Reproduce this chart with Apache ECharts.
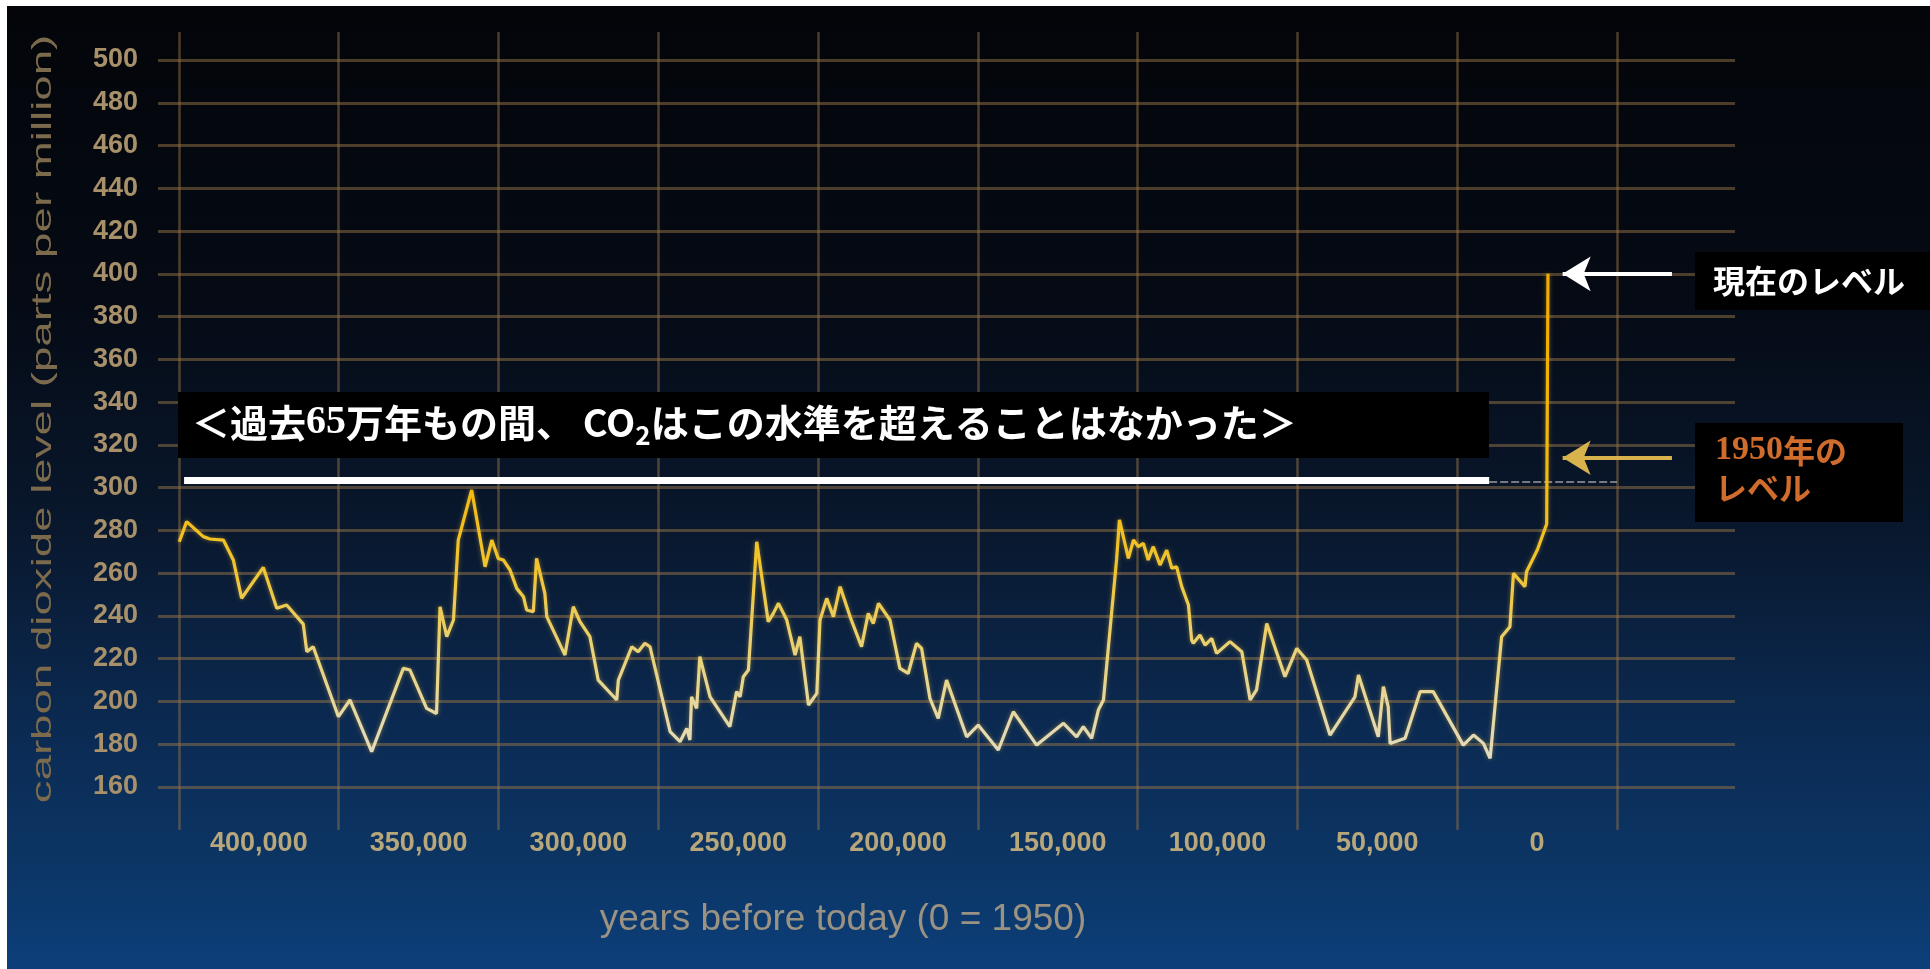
<!DOCTYPE html>
<html>
<head>
<meta charset="utf-8">
<script src="https://cdn.jsdelivr.net/npm/echarts@6/dist/echarts.min.js"></script>
<style>
html,body{margin:0;padding:0;background:#fff;overflow:hidden;}
#c{width:1930px;height:969px;}
</style>
</head>
<body>
<div id="c"></div>
<script>
// ---- data ----
const years = [424900,422600,417400,415300,411100,408000,405400,398600,394400,391300,386100,385000,383000,375100,371500,364700,354800,352700,347500,344400,343300,341200,339100,337600,333400,329200,327100,325100,323500,
321400,319300,317200,316200,314100,313100,310500,309900,304200,301600,299500,296400,293800,288000,287500,283300,281300,279200,277600,271300,268200,266100,265100,264600,263000,262000,258800,252600,250500,249400,248400,246800,244200,240600,239000,237400,234800,232200,230700,228000,225400,224400,222300,220200,218100,
215000,211400,209300,207700,206100,202500,199400,196800,194200,192600,190000,187400,184800,178500,174900,168600,163900,156600,148200,144100,142000,139400,137300,135700,131600,130700,127900,126300,124800,123200,121700,120100,118000,115900,114300,112800,111200,109100,108100,
107600,105500,103900,101800,100300,96100,92400,89800,87800,84600,78900,75200,72100,64800,57000,55900,49700,48100,46600,46000,41300,36600,32500,23100,19900,16800,14700,11100,8500,7400,3800,3300,-100,-3000,-3400];
const co2 = [274.7,284.1,277.1,276.0,275.5,266.2,248.3,262.7,243.6,245.1,236.2,223.3,225.6,192.9,200.7,176.5,215.5,214.7,196.8,194.4,244.3,230.3,238.1,275.5,298.9,263.0,275.5,266.9,266.2,
261.5,252.9,249.0,242.8,242.0,266.9,250.6,239.7,221.7,244.3,237.3,230.3,210.0,200.7,210.0,225.6,223.3,227.2,225.6,185.9,181.2,187.4,182.0,202.2,196.8,221.0,202.2,188.2,204.6,202.2,211.6,214.7,274.7,237.3,241.2,245.9,238.1,221.7,230.3,198.3,203.8,238.1,248.2,239.7,253.7,
239.7,225.6,241.2,236.5,245.9,238.1,215.5,213.1,227.2,224.8,201.5,192.1,210.0,183.5,189.0,177.3,195.2,179.6,189.8,183.5,188.2,182.8,196.0,200.7,266.2,284.9,266.9,275.5,272.4,273.9,266.2,272.4,263.8,270.8,262.3,263.0,253.7,245.1,228.7,
227.2,231.1,226.4,229.5,222.5,228.0,223.3,200.7,205.4,236.5,211.6,224.8,219.4,184.3,202.2,212.4,183.5,206.9,197.6,180.4,182.8,204.6,204.6,179.6,184.3,180.4,173.4,230.3,235.0,259.9,253.7,260.7,271.0,283.0,400.0];

const yTicks = [160,180,200,220,240,260,280,300,320,340,360,380,400,420,440,460,480,500];
const xLabelValues = [400000,350000,300000,250000,200000,150000,100000,50000,0];
const xGridValues = [425000,375000,325000,275000,225000,175000,125000,75000,25000,-25000];

const thresholdLevel = 303.3;      // white bar
const thresholdSpan = [423400, 15000];
const currentLevel = 400;          // 現在のレベル
const level1950 = 314;             // 1950年のレベル
const arrowSpan = [-42200, -8000];

const yTitle = 'carbon dioxide level (parts per million)';
const xTitle = 'years before today (0 = 1950)';
const currentLabel = '現在のレベル';

// ---- chart ----
const chart = echarts.init(document.getElementById('c'), null, {renderer: 'canvas'});
const fmt = v => String(v).replace(/\B(?=(\d{3})+(?!\d))/g, ',');
const gridColor = 'rgba(150,115,70,0.5)';

const option = {
  backgroundColor: {
    type: 'linear', x: 0, y: 0, x2: 0, y2: 1,
    colorStops: [
      {offset: 0, color: '#030509'},
      {offset: 0.3, color: '#050a14'},
      {offset: 0.55, color: '#09182e'},
      {offset: 0.75, color: '#0b2a52'},
      {offset: 0.9, color: '#0c3666'},
      {offset: 1, color: '#0c3f7a'}
    ]
  },
  animation: false,
  grid: {left: 158, right: 195, top: 32, bottom: 139, containLabel: false, outerBoundsMode: 'none'},
  xAxis: {
    type: 'value', inverse: true, min: -61930, max: 431560,
    axisLine: {show: false},
    axisTick: {show: false, customValues: xGridValues},
    splitLine: {show: true, lineStyle: {color: gridColor, width: 2.5}},
    axisLabel: {
      customValues: xLabelValues, formatter: fmt, margin: 2, lineHeight: 24,
      color: '#b8a77a', fontFamily: 'Liberation Sans', fontWeight: 'bold', fontSize: 27
    }
  },
  yAxis: {
    type: 'value', min: 139.9, max: 513.1,
    axisLine: {show: false},
    axisTick: {show: false, customValues: yTicks},
    splitLine: {show: true, lineStyle: {color: gridColor, width: 3}},
    axisLabel: {
      customValues: yTicks, margin: 20,
      color: '#a8916a', fontFamily: 'Liberation Sans', fontWeight: 'bold', fontSize: 27
    }
  },
  series: [{
    type: 'line',
    data: years.map((y, i) => [y, co2[i]]),
    showSymbol: false, symbol: 'none', silent: true, z: 5,
    lineStyle: {
      width: 3.2,
      shadowColor: 'rgba(240,190,50,0.45)', shadowBlur: 4,
      color: {
        type: 'linear', x: 0, y: 0, x2: 0, y2: 1,
        colorStops: [
          {offset: 0, color: '#f2a900'},
          {offset: 0.45, color: '#f4bb10'},
          {offset: 0.6, color: '#f0c430'},
          {offset: 0.78, color: '#e9d27a'},
          {offset: 1, color: '#e2dcc4'}
        ]
      }
    },
    markLine: {
      silent: true, symbol: 'none', animation: false,
      label: {show: false},
      data: [
        [{coord: [thresholdSpan[0], thresholdLevel], lineStyle: {color: '#ffffff', width: 7, type: 'solid'}},
         {coord: [thresholdSpan[1], thresholdLevel]}],
        [{coord: [thresholdSpan[1], thresholdLevel - 0.7], lineStyle: {color: 'rgba(190,190,190,0.6)', width: 2, type: [8, 3]}},
         {coord: [-25000, thresholdLevel - 0.7]}],
        [{coord: [arrowSpan[0], currentLevel], symbol: 'none', lineStyle: {color: '#ffffff', width: 4, type: 'solid'}},
         {coord: [arrowSpan[1], currentLevel], symbol: 'arrow', symbolSize: [26, 28]}],
        [{coord: [arrowSpan[0], level1950], symbol: 'none', lineStyle: {color: '#d8b24c', width: 4, type: 'solid'}},
         {coord: [arrowSpan[1], level1950], symbol: 'arrow', symbolSize: [26, 28]}]
      ]
    }
  }],
  graphic: [
    {type: 'rect', z: 50, shape: {x: 178, y: 392, width: 1311, height: 66}, style: {fill: '#000'}},
    {type: 'text', z: 51, x: 192, y: 423,
      style: {
        text: '{a|＜過去}{n|65}{a|万年もの間、 CO}{s|2}{a|はこの水準を超えることはなかった＞}',
        verticalAlign: 'middle', align: 'left',
        rich: {
          a: {fontFamily: 'Noto Sans CJK JP', fontWeight: 'bold', fontSize: 38, lineHeight: 50, fill: '#fff'},
          n: {fontFamily: 'Liberation Serif', fontWeight: 'bold', fontSize: 40, lineHeight: 50, fill: '#fff'},
          s: {fontFamily: 'Noto Sans CJK JP', fontWeight: 'bold', fontSize: 26, lineHeight: 26, verticalAlign: 'bottom', fill: '#fff'}
        }
      }},
    {type: 'rect', z: 50, shape: {x: 1695, y: 252, width: 235, height: 58}, style: {fill: '#000'}},
    {type: 'text', z: 51, x: 1713, y: 281,
      style: {text: currentLabel, fill: '#ffffff', fontFamily: 'Noto Sans CJK JP', fontWeight: 'bold', fontSize: 32, verticalAlign: 'middle'}},
    {type: 'rect', z: 50, shape: {x: 1695, y: 423, width: 208, height: 99}, style: {fill: '#000'}},
    {type: 'text', z: 51, x: 1715, y: 469,
      style: {
        text: '{n|1950}{a|年の}\n{a|レベル}', verticalAlign: 'middle',
        rich: {
          n: {fontFamily: 'Liberation Serif', fontWeight: 'bold', fontSize: 34, lineHeight: 37, fill: '#d06c2c'},
          a: {fontFamily: 'Noto Sans CJK JP', fontWeight: 'bold', fontSize: 32, lineHeight: 37, fill: '#d06c2c'}
        }
      }},
    {type: 'text', z: 20, x: 43, y: 419, rotation: Math.PI / 2, scaleX: 1.63, scaleY: 1,
      style: {text: yTitle, fill: '#7c6a4c', fontFamily: 'Liberation Sans', fontSize: 28, align: 'center', verticalAlign: 'middle'}},
    {type: 'text', z: 20, x: 843, y: 920,
      style: {text: xTitle, fill: '#9a9282', fontFamily: 'Liberation Sans', fontSize: 37, align: 'center', verticalAlign: 'middle'}},
    {type: 'rect', z: 200, shape: {x: 0, y: 0, width: 1930, height: 6}, style: {fill: '#fff'}},
    {type: 'rect', z: 200, shape: {x: 0, y: 0, width: 7, height: 969}, style: {fill: '#fff'}}
  ]
};
chart.setOption(option);
</script>
</body>
</html>
